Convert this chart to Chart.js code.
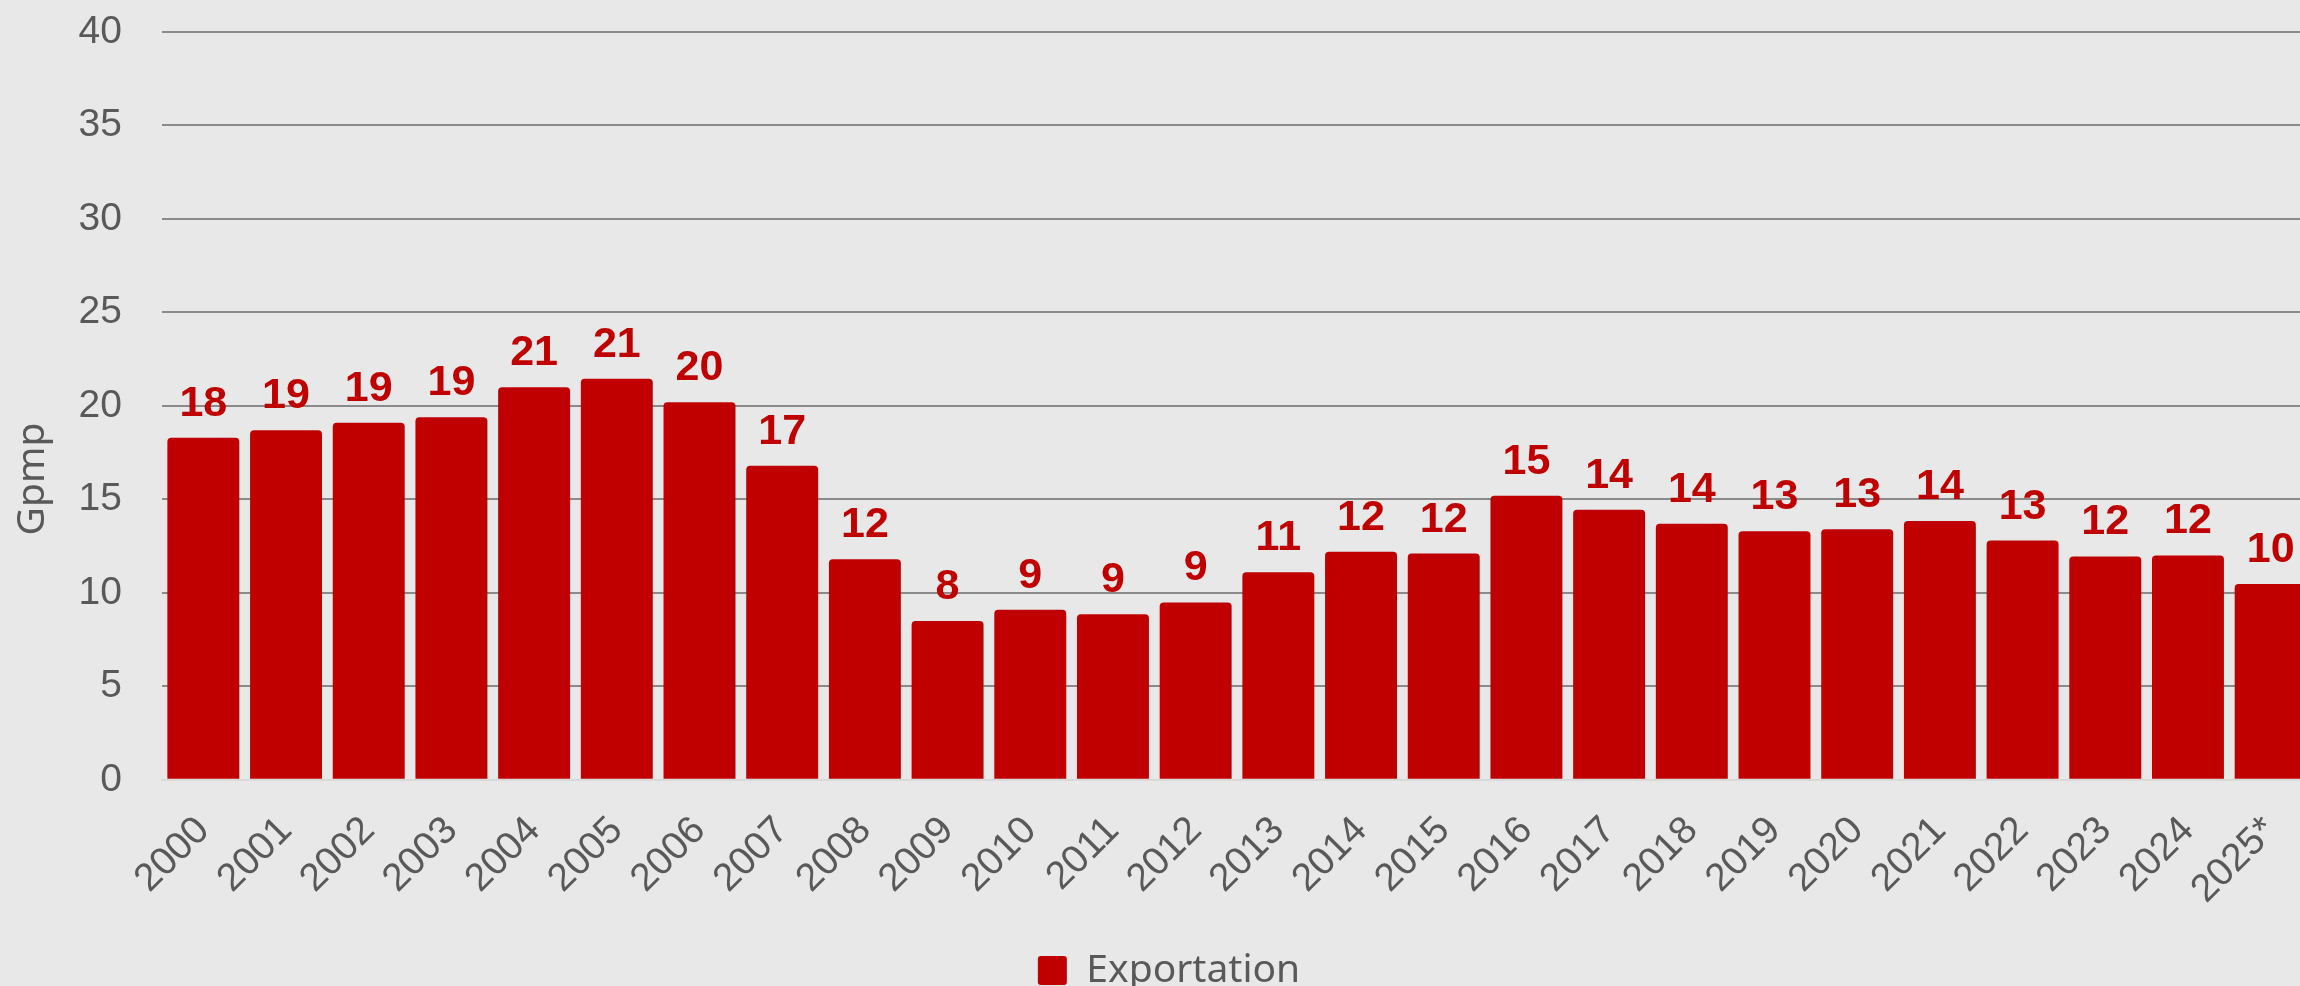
<!DOCTYPE html>
<html>
<head>
<meta charset="utf-8">
<script src="https://cdn.jsdelivr.net/npm/chart.js@4.4.1/dist/chart.umd.min.js"></script>
<style>
  html, body { margin: 0; padding: 0; background: #e8e8e8; overflow: hidden; }
  #wrap { position: absolute; left: 0; top: 0; width: 2338px; height: 1000px; }
</style>
</head>
<body>
<div id="wrap"><canvas id="myChart" width="2338" height="1000"></canvas></div>
<script>
	// 연도 (x축)
	const years = ['2000', '2001', '2002', '2003', '2004', '2005', '2006', '2007', '2008',
		'2009', '2010', '2011', '2012', '2013', '2014', '2015', '2016', '2017', '2018',
		'2019', '2020', '2021', '2022', '2023', '2024', '2025*'];

	// 수출량 (Gpmp)
	const exportValues = [18.3, 18.7, 19.1, 19.4, 21.0, 21.45, 20.2, 16.8, 11.8,
		8.49, 9.1, 8.85, 9.49, 11.1, 12.2, 12.1, 15.2, 14.45, 13.7,
		13.3, 13.4, 13.85, 12.8, 11.95, 12.0, 10.48];

	// y축 눈금
	const yMin = 0;
	const yMax = 40;
	const yStep = 5;

	const barColor = '#c00000';
	const textGray = '#595959';

	// 막대 위 값 표시
	const valueLabels = {
		id: 'valueLabels',
		afterDatasetsDraw(chart) {
			const ctx = chart.ctx;
			const meta = chart.getDatasetMeta(0);
			ctx.save();
			ctx.font = 'bold 43px "Liberation Sans", Arial, sans-serif';
			ctx.fillStyle = barColor;
			ctx.textAlign = 'center';
			ctx.textBaseline = 'alphabetic';
			meta.data.forEach((bar, i) => {
				ctx.fillText(Math.round(exportValues[i]), bar.x, bar.y - 22);
			});
			ctx.restore();
		}
	};

	// y축 제목 (가운데 정렬이 아니라서 직접 그림)
	const yTitle = {
		id: 'yTitle',
		afterDraw(chart) {
			const ctx = chart.ctx;
			ctx.save();
			ctx.translate(33, 479);
			ctx.rotate(-Math.PI / 2);
			ctx.font = '39px "Noto Sans", sans-serif';
			ctx.fillStyle = textGray;
			ctx.textAlign = 'center';
			ctx.textBaseline = 'middle';
			ctx.fillText('Gpmp', 0, 0);
			ctx.restore();
		}
	};

	// 범례 살짝 오른쪽으로
	const legendShift = {
		id: 'legendShift',
		afterLayout(chart) {
			chart.legend.left += 13;
			chart.legend.right += 13;
		}
	};

	const ctx = document.querySelector('#myChart');
	const myChart = new Chart(ctx, {
		type: 'bar',
		data: {
			labels: years,
			datasets: [
				{
					label: 'Exportation',
					data: exportValues,
					backgroundColor: barColor,
					borderRadius: 4,
					barPercentage: 0.87,
					categoryPercentage: 1.0
				}
			]
		},
		options: {
			responsive: false,
			animation: false,
			layout: {
				padding: { left: 0, right: 26, top: 32, bottom: 0 }
			},
			scales: {
				x: {
					z: 1,
					grid: { display: false, drawTicks: false },
					border: { display: true, color: '#d9d9d9', width: 2 },
					ticks: {
						color: textGray,
						font: { family: '"Liberation Sans", Arial, sans-serif', size: 39 },
						minRotation: 45,
						maxRotation: 45,
						padding: 28,
						autoSkip: false
					},
					afterFit(scale) { scale.paddingTop = 0; }
				},
				y: {
					min: yMin,
					max: yMax,
					afterFit(scale) {
						scale.width = 162;
						scale.paddingTop = 0;
					},
					border: { display: false },
					grid: {
						drawTicks: false,
						lineWidth: 2,
						color: (c) => c.tick && c.tick.value === 0 ? '#d9d9d9' : '#8a8a8a'
					},
					ticks: {
						stepSize: yStep,
						padding: 40,
						color: textGray,
						font: { family: '"Liberation Sans", Arial, sans-serif', size: 39 }
					}
				}
			},
			plugins: {
				tooltip: { enabled: false },
				legend: {
					position: 'bottom',
					labels: {
						color: textGray,
						font: { family: '"Noto Sans", sans-serif', size: 39 },
						boxWidth: 29,
						boxHeight: 29,
						useBorderRadius: true,
						borderRadius: 3
					}
				}
			}
		},
		plugins: [valueLabels, yTitle, legendShift]
	});
</script>
</body>
</html>
